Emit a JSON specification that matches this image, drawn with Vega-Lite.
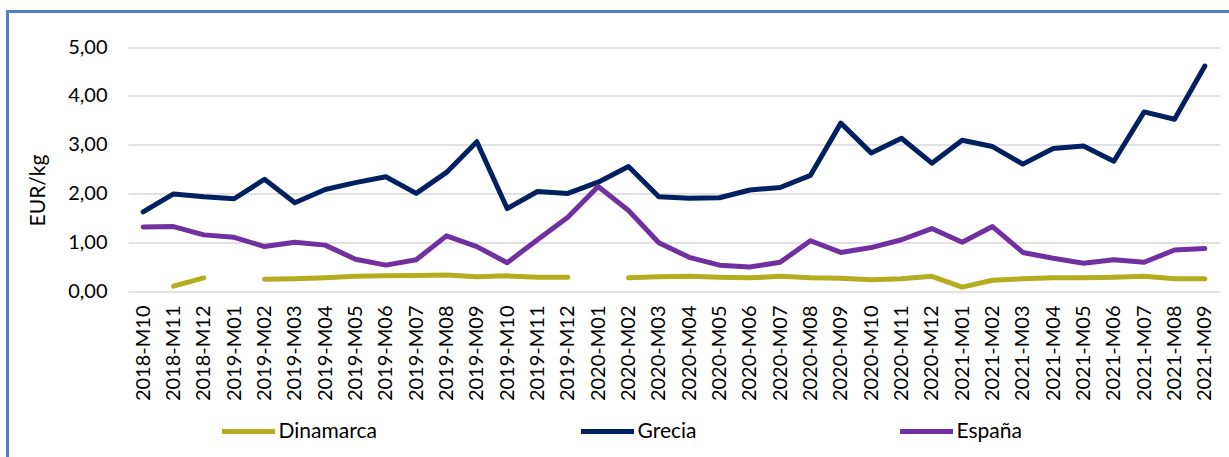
{
  "$schema": "https://vega.github.io/schema/vega-lite/v6.json",
  "width": 1224,
  "height": 450,
  "autosize": {"type": "none"},
  "padding": {"left": 7.5, "top": 11.5, "right": -2.5, "bottom": -4.5},
  "background": "white",
  "config": {"view": {"stroke": "#4F81BD", "strokeWidth": 3}, "font": "Lato"},
  "data": {"values": [
    {"mes": "2018-M10", "Dinamarca": null, "Grecia": 1.62, "España": 1.31},
    {"mes": "2018-M11", "Dinamarca": 0.10, "Grecia": 1.99, "España": 1.32},
    {"mes": "2018-M12", "Dinamarca": 0.27, "Grecia": 1.93, "España": 1.15},
    {"mes": "2019-M01", "Dinamarca": null, "Grecia": 1.89, "España": 1.10},
    {"mes": "2019-M02", "Dinamarca": 0.24, "Grecia": 2.29, "España": 0.91},
    {"mes": "2019-M03", "Dinamarca": 0.25, "Grecia": 1.81, "España": 1.00},
    {"mes": "2019-M04", "Dinamarca": 0.27, "Grecia": 2.08, "España": 0.94},
    {"mes": "2019-M05", "Dinamarca": 0.30, "Grecia": 2.22, "España": 0.65},
    {"mes": "2019-M06", "Dinamarca": 0.31, "Grecia": 2.34, "España": 0.53},
    {"mes": "2019-M07", "Dinamarca": 0.32, "Grecia": 2.00, "España": 0.64},
    {"mes": "2019-M08", "Dinamarca": 0.33, "Grecia": 2.43, "España": 1.13},
    {"mes": "2019-M09", "Dinamarca": 0.29, "Grecia": 3.06, "España": 0.91},
    {"mes": "2019-M10", "Dinamarca": 0.31, "Grecia": 1.69, "España": 0.58},
    {"mes": "2019-M11", "Dinamarca": 0.28, "Grecia": 2.04, "España": 1.05},
    {"mes": "2019-M12", "Dinamarca": 0.28, "Grecia": 2.00, "España": 1.51},
    {"mes": "2020-M01", "Dinamarca": null, "Grecia": 2.23, "España": 2.14},
    {"mes": "2020-M02", "Dinamarca": 0.27, "Grecia": 2.55, "España": 1.65},
    {"mes": "2020-M03", "Dinamarca": 0.29, "Grecia": 1.93, "España": 0.99},
    {"mes": "2020-M04", "Dinamarca": 0.30, "Grecia": 1.90, "España": 0.69},
    {"mes": "2020-M05", "Dinamarca": 0.28, "Grecia": 1.91, "España": 0.53},
    {"mes": "2020-M06", "Dinamarca": 0.27, "Grecia": 2.07, "España": 0.49},
    {"mes": "2020-M07", "Dinamarca": 0.30, "Grecia": 2.12, "España": 0.59},
    {"mes": "2020-M08", "Dinamarca": 0.27, "Grecia": 2.37, "España": 1.03},
    {"mes": "2020-M09", "Dinamarca": 0.26, "Grecia": 3.44, "España": 0.79},
    {"mes": "2020-M10", "Dinamarca": 0.23, "Grecia": 2.83, "España": 0.89},
    {"mes": "2020-M11", "Dinamarca": 0.25, "Grecia": 3.13, "España": 1.05},
    {"mes": "2020-M12", "Dinamarca": 0.30, "Grecia": 2.62, "España": 1.28},
    {"mes": "2021-M01", "Dinamarca": 0.08, "Grecia": 3.09, "España": 1.00},
    {"mes": "2021-M02", "Dinamarca": 0.22, "Grecia": 2.96, "España": 1.32},
    {"mes": "2021-M03", "Dinamarca": 0.25, "Grecia": 2.60, "España": 0.79},
    {"mes": "2021-M04", "Dinamarca": 0.27, "Grecia": 2.92, "España": 0.67},
    {"mes": "2021-M05", "Dinamarca": 0.27, "Grecia": 2.97, "España": 0.57},
    {"mes": "2021-M06", "Dinamarca": 0.28, "Grecia": 2.66, "España": 0.64},
    {"mes": "2021-M07", "Dinamarca": 0.30, "Grecia": 3.67, "España": 0.59},
    {"mes": "2021-M08", "Dinamarca": 0.25, "Grecia": 3.52, "España": 0.84},
    {"mes": "2021-M09", "Dinamarca": 0.25, "Grecia": 4.61, "España": 0.87}
  ]},
  "transform": [{"fold": ["Dinamarca", "Grecia", "España"], "as": ["pais", "valor"]}],
  "mark": {"type": "line", "strokeWidth": 5, "strokeCap": "round", "strokeJoin": "round", "invalid": "break-paths-filter-domains"},
  "encoding": {
    "x": {
      "field": "mes", "type": "ordinal", "sort": null,
      "scale": {"range": [120.5, 1212.5], "padding": 0.5},
      "axis": {"title": null, "orient": "bottom", "offset": -170.5, "domain": false, "ticks": false, "tickSize": 0,
        "labelAngle": -90, "labelPadding": 14, "labelFontSize": 20, "labelColor": "#000", "grid": false,
        "labelOverlap": false, "labelBound": false}
    },
    "y": {
      "field": "valor", "type": "quantitative",
      "scale": {"domain": [0, 5], "range": [279.5, 35.5], "nice": false, "zero": true},
      "axis": {"title": "EUR/kg", "offset": -120.5, "domain": false, "ticks": false, "tickSize": 0,
        "values": [0, 1, 2, 3, 4, 5], "labelExpr": "replace(format(datum.value, '.2f'), '.', ',')",
        "labelFontSize": 20, "labelPadding": 21, "labelColor": "#000",
        "grid": true, "gridColor": "#D9D9D9", "gridWidth": 1.5,
        "titleFontSize": 21, "titleFontWeight": "normal", "titleColor": "#000",
        "titleX": -90, "titleY": 178.5, "titleAngle": 270, "titleAlign": "center", "titleBaseline": "middle"}
    },
    "color": {
      "field": "pais", "type": "nominal",
      "scale": {"domain": ["Dinamarca", "Grecia", "España"], "range": ["#B4AC21", "#002060", "#7030A0"]},
      "legend": {"orient": "none", "legendX": 212, "legendY": 391, "direction": "horizontal", "title": null,
        "symbolType": "stroke", "symbolSize": 2809, "symbolStrokeWidth": 5, "labelFontSize": 21,
        "labelColor": "#000", "labelOffset": 1, "columnPadding": 193, "padding": 0}
    }
  }
}
